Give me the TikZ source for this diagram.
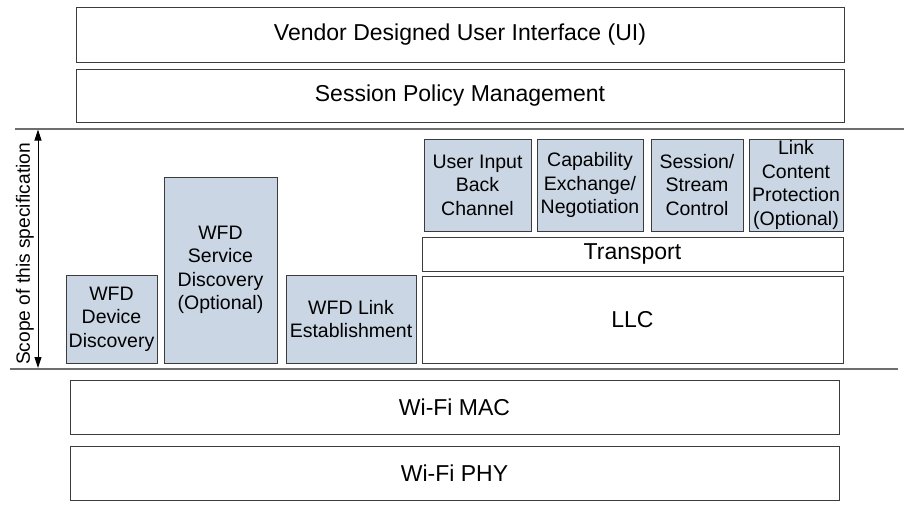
\documentclass[tikz,border=0pt]{standalone}
\usepackage{fontspec}
\setmainfont{Liberation Sans}
\usetikzlibrary{arrows.meta}
\definecolor{boxfill}{RGB}{202,214,228}
\definecolor{boxline}{RGB}{60,60,60}
\definecolor{sepline}{RGB}{110,110,110}
\tikzset{
  layer/.style={draw=boxline, line width=1pt, fill=white, rectangle, inner sep=0pt, align=center,
    font=\fontsize{23}{27}\selectfont},
  block/.style={draw=boxline, line width=1pt, fill=boxfill, rectangle, inner sep=0pt, align=center,
    font=\fontsize{19.5}{23.4}\selectfont},
  sep/.style={draw=sepline},
}
\begin{document}
\begin{tikzpicture}[x=1pt,y=-1pt]
\useasboundingbox (0,0) rectangle (911,514);
% top layers
\node[layer, minimum width=768pt, minimum height=55pt] (ui) at (460,34.5) {Vendor Designed User Interface (UI)};
\node[layer, minimum width=768pt, minimum height=53pt] (spm) at (460,95.5) {Session Policy Management};
% separators
\coordinate (t1) at (15,129);
\coordinate (t2) at (904,129);
\coordinate (b1) at (10,369);
\coordinate (b2) at (898,369);
\draw[sep, line width=1.5pt] (t1) -- (t2);
\draw[sep, line width=2.5pt] (b1) -- (b2);
% scope arrow
\coordinate (atop) at (38,129.5);
\coordinate (abot) at (38,368);
\draw[line width=1pt, {Triangle[width=7pt,length=11pt]}-{Triangle[width=7pt,length=11pt]}] (atop) -- (abot);
\node[rotate=90, font=\fontsize{19.2}{23}\selectfont, inner sep=0pt] (scope) at (25,254) {Scope of this specification};
% WFD blocks
\node[block, minimum width=91pt, minimum height=88pt] (wdd) at (111.5,319) {WFD\\Device\\Discovery};
\node[block, minimum width=113pt, minimum height=186pt] (wsd) at (220.5,270) {WFD\\Service\\Discovery\\(Optional)};
\node[block, minimum width=130pt, minimum height=88pt] (wle) at (351,319) {WFD Link\\Establishment};
\node[layer, minimum width=421pt, minimum height=87pt] (llc) at (632.5,319.5) {LLC};
\node[layer, minimum width=421pt, minimum height=34pt] (tr) at (632.5,254) {Transport};
\node[block, minimum width=107pt, minimum height=92pt] (uibc) at (477.5,185) {User Input\\Back\\Channel};
\node[block, minimum width=106pt, minimum height=92pt] (cap) at (590,185) {Capability\\Exchange/\\Negotiation};
\node[block, minimum width=92pt, minimum height=92pt] (ssc) at (697,185) {Session/\\Stream\\Control};
\node[block, minimum width=94pt, minimum height=92pt] (lcp) at (796,185) {Link\\Content\\Protection\\(Optional)};
% bottom layers
\node[layer, minimum width=769pt, minimum height=54pt] (mac) at (454.5,407) {Wi-Fi MAC};
\node[layer, minimum width=769pt, minimum height=54pt] (phy) at (454.5,473) {Wi-Fi PHY};
\end{tikzpicture}
\end{document}
